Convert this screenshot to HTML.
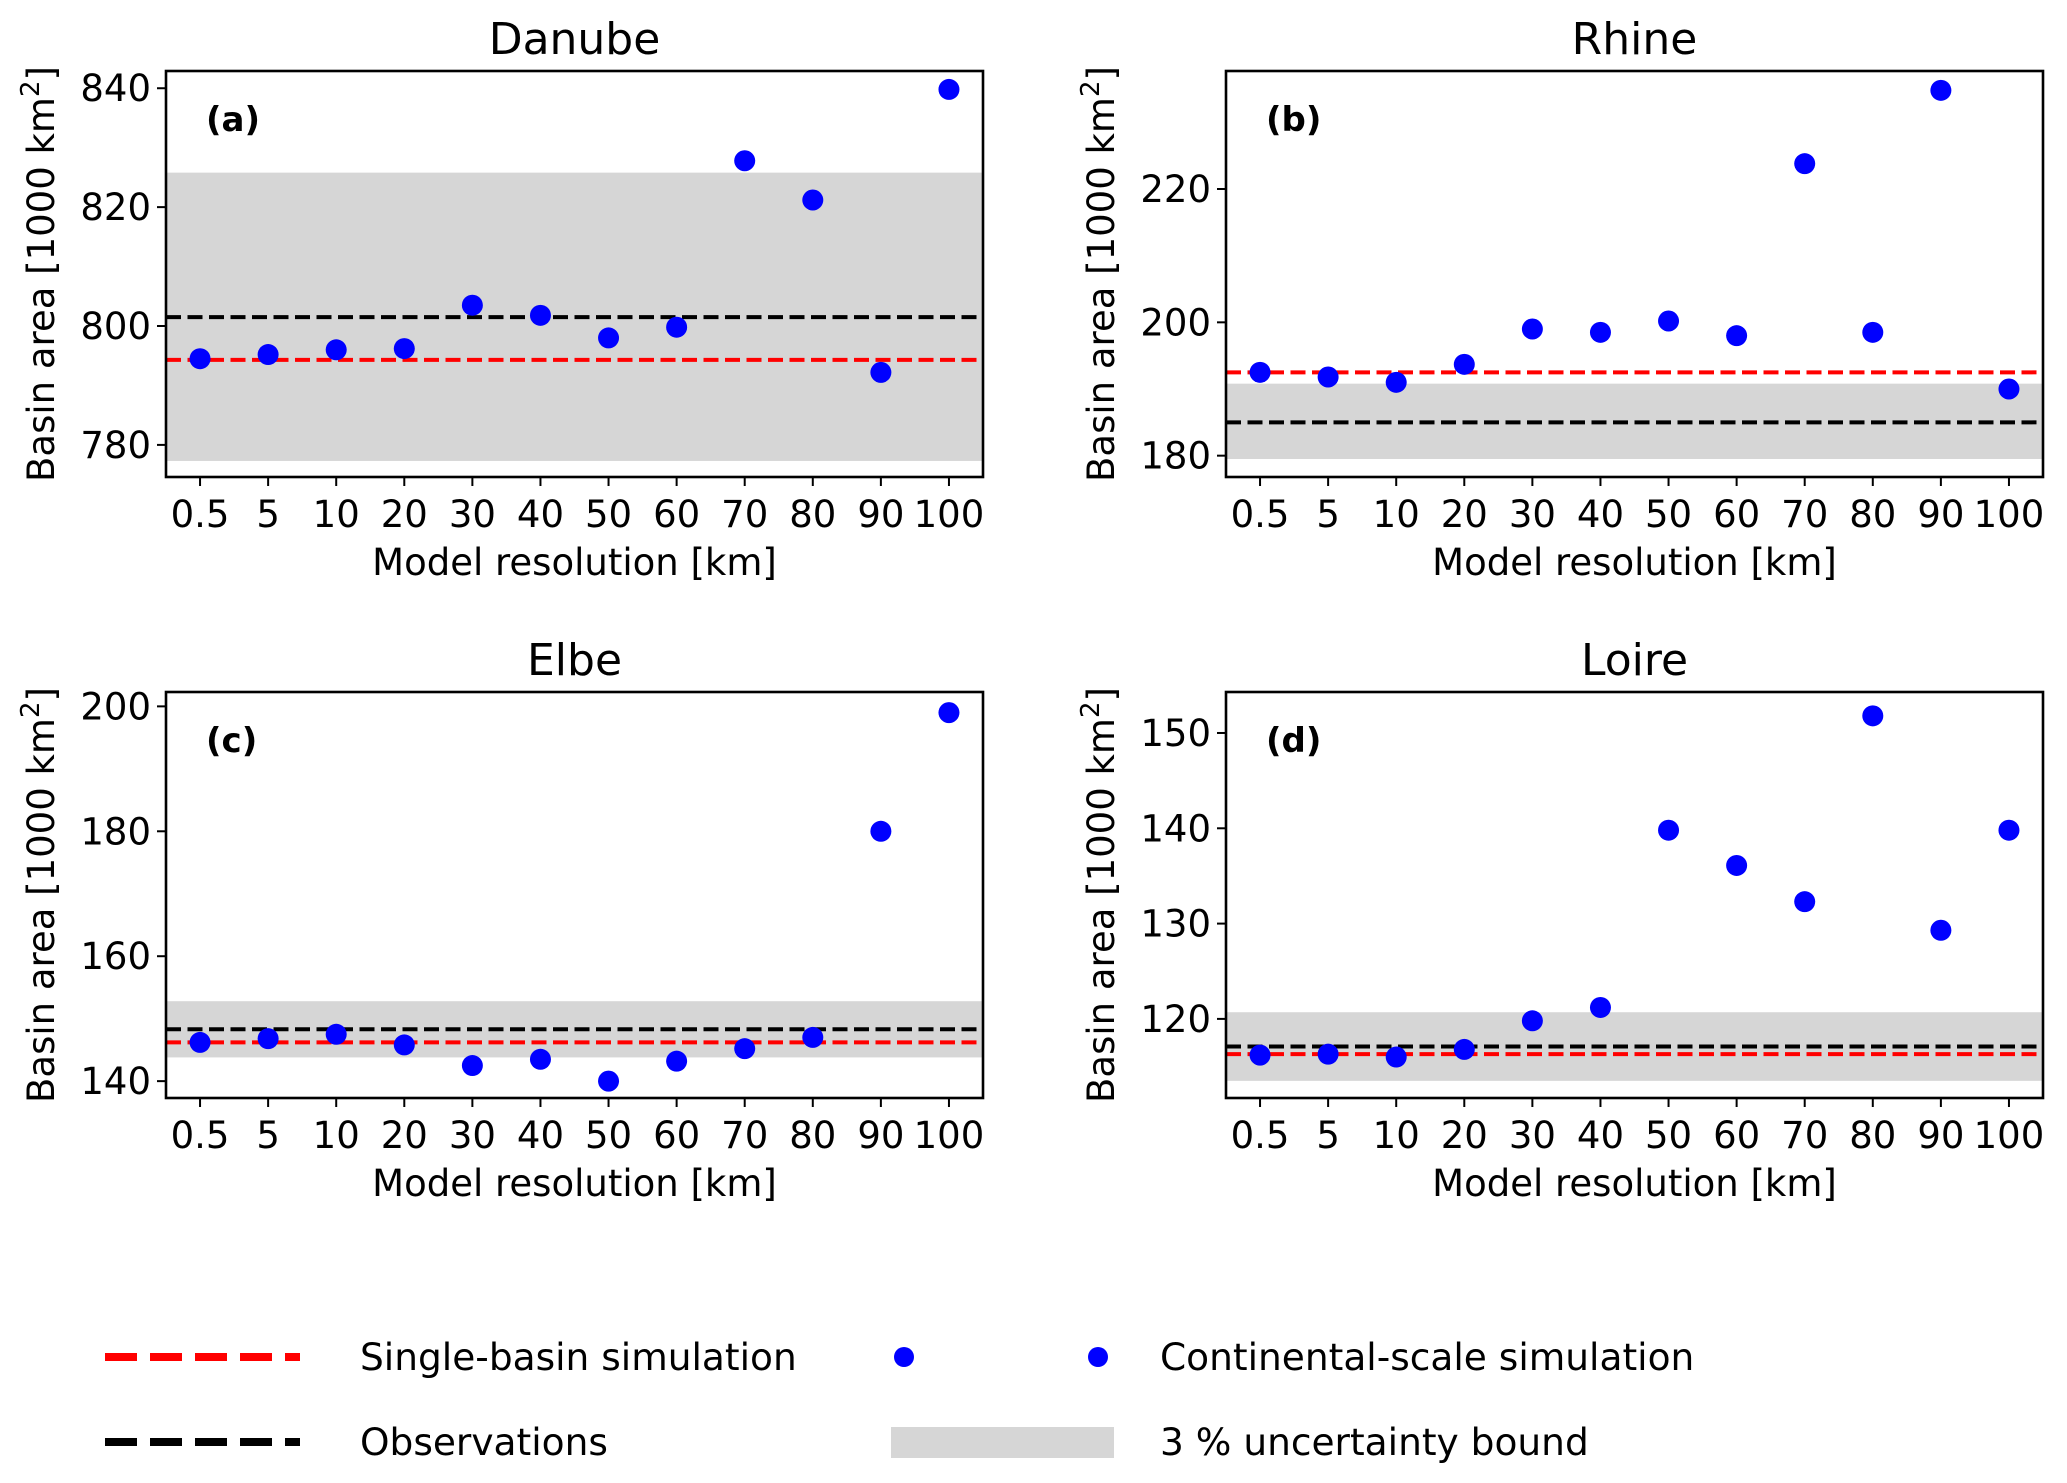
<!DOCTYPE html>
<html><head><meta charset="utf-8"><style>
html,body{margin:0;padding:0;background:#fff;}
svg{display:block;font-family:"DejaVu Sans","Liberation Sans",sans-serif;}
</style></head><body>
<svg id="fig" width="2067" height="1483" viewBox="0 0 2067 1483" xmlns="http://www.w3.org/2000/svg">
<g id="panels"></g>
<g id="legend">
  <line x1="105" y1="1357" x2="300" y2="1357" stroke="#ff0000" stroke-width="8" stroke-dasharray="32,13"/>
  <text x="360" y="1370" font-size="37.5">Single-basin simulation</text>
  <line x1="105" y1="1442" x2="300" y2="1442" stroke="#000" stroke-width="8" stroke-dasharray="32,13"/>
  <text x="360" y="1455" font-size="37.5">Observations</text>
  <circle cx="904" cy="1357" r="10" fill="#0000ff"/>
  <circle cx="1098" cy="1357" r="10" fill="#0000ff"/>
  <text x="1160" y="1370" font-size="37.5">Continental-scale simulation</text>
  <rect x="891" y="1427" width="223" height="31" fill="#d6d6d6"/>
  <text x="1160" y="1455" font-size="37.5">3 % uncertainty bound</text>
</g>
</svg>
<script>
const categories = ["0.5","5","10","20","30","40","50","60","70","80","90","100"];
const titles = ["Danube","Rhine","Elbe","Loire"];
const panelLabels = ["(a)","(b)","(c)","(d)"];
const danubeValues = [794.5,795.2,796,796.2,803.5,801.8,798,799.8,827.8,821.2,792.2,839.8];
const rhineValues = [192.5,191.8,191,193.7,199,198.5,200.2,198,223.8,198.5,234.8,190];
const elbeValues = [146.2,146.8,147.5,145.8,142.5,143.5,140,143.2,145.2,147,180,199];
const loireValues = [116.2,116.3,116,116.8,119.8,121.2,139.8,136.1,132.3,151.8,129.3,139.8];
const observations = [801.5,185,148.3,117.1];
const singleBasin = [794.3,192.5,146.2,116.3];
const bandLow = [777.3,179.5,143.8,113.5];
const bandHigh = [825.8,190.8,152.8,120.7];
const danubeTicks = [780,800,820,840];
const rhineTicks = [180,200,220];
const elbeTicks = [140,160,180,200];
const loireTicks = [120,130,140,150];
const yMins = [774.6,176.8,137.3,111.7];
const yMaxs = [842.9,237.7,202.3,154.3];

const seriesAll = [danubeValues,rhineValues,elbeValues,loireValues];
const ticksAll = [danubeTicks,rhineTicks,elbeTicks,loireTicks];
const NS = "http://www.w3.org/2000/svg";
const root = document.getElementById('panels');
function mk(tag, attrs, parent){const e=document.createElementNS(NS,tag);for(const k in attrs)e.setAttribute(k,attrs[k]);parent.appendChild(e);return e;}

const boxes = [[166,71],[1226,71],[166,692],[1226,692]];
const W = 817, H = 406;
for(let p=0;p<4;p++){
  const [L,T]=boxes[p];
  const g = mk('g',{},root);
  
  
  const y = v => T + H - (v - yMins[p])/(yMaxs[p]-yMins[p])*H;
  const x = i => L + (i+0.5)*W/categories.length;
  const band = mk('rect',{x:L,y:y(bandHigh[p]),width:W,height:y(bandLow[p])-y(bandHigh[p]),fill:'#d6d6d6'},g);
  
  
  const ob = mk('line',{x1:L,x2:L+W,y1:y(observations[p]),y2:y(observations[p]),stroke:'#000','stroke-width':4,'stroke-dasharray':'15,6.5'},g);
  
  
  const sb = mk('line',{x1:L,x2:L+W,y1:y(singleBasin[p]),y2:y(singleBasin[p]),stroke:'#ff0000','stroke-width':4,'stroke-dasharray':'15,6.5'},g);
  
  
  const vals = seriesAll[p];
  vals.forEach((v,i)=>{
    const c = mk('circle',{cx:x(i),cy:y(v),r:10.5,fill:'#0000ff'},g);
    
    
  });
  const fr = mk('rect',{x:L,y:T,width:W,height:H,fill:'none',stroke:'#000','stroke-width':2.6},g);
  
  
  categories.forEach((c,i)=>{
    mk('line',{x1:x(i),x2:x(i),y1:T+H,y2:T+H+9,stroke:'#000','stroke-width':2},g);
    const t = mk('text',{x:x(i),y:T+H+50,'font-size':37,'text-anchor':'middle'},g);
    t.textContent=c;
    
    
  });
  ticksAll[p].forEach(v=>{
    mk('line',{x1:L-9,x2:L,y1:y(v),y2:y(v),stroke:'#000','stroke-width':2},g);
    const t = mk('text',{x:L-15,y:y(v)+13,'font-size':37,'text-anchor':'end'},g);
    t.textContent=v;
    
    
  });
  const tt = mk('text',{x:L+W/2,y:T-17,'font-size':44,'text-anchor':'middle'},g);
  tt.textContent=titles[p];
  
  
  const pl = mk('text',{x:L+40,y:T+60,'font-size':34,'font-weight':'bold'},g);
  pl.textContent=panelLabels[p];
  
  
  const xl = mk('text',{x:L+W/2,y:T+H+98,'font-size':37,'text-anchor':'middle'},g);
  xl.textContent='Model resolution [km]';
  
  
  const yl = mk('text',{x:0,y:0,'font-size':37,'text-anchor':'middle',transform:`translate(${L-112},${T+H/2}) rotate(-90)`},g);
  yl.innerHTML='Basin area [1000 km<tspan baseline-shift="super" font-size="26">2</tspan>]';
  
  
}
</script>
</body></html>
